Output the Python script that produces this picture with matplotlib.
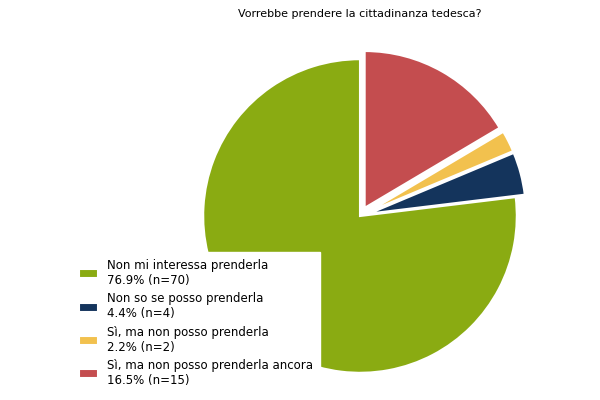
import matplotlib
matplotlib.use("Agg")
import matplotlib.pyplot as plt

labels = ["Non mi interessa prenderla\n76.9% (n=70)",
          "Non so se posso prenderla\n4.4% (n=4)",
          "Sì, ma non posso prenderla\n2.2% (n=2)",
          "Sì, ma non posso prenderla ancora\n16.5% (n=15)"]
values = [70, 4, 2, 15]
colors = ["#8aab12", "#14345c", "#f2c14e", "#c44d4f"]
explode = [0, 0.06, 0.06, 0.06]

fig = plt.figure(figsize=(6, 4), dpi=100)
ax = fig.add_axes([0.27, -0.03, 0.66, 0.98])
ax.pie(values, colors=colors, startangle=90, counterclock=True, explode=explode,
       wedgeprops=dict(edgecolor="white", linewidth=1.5))
ax.set_aspect("equal")
fig.text(0.6, 0.965, "Vorrebbe prendere la cittadinanza tedesca?", ha="center", va="center", fontsize=8)
leg = fig.legend(labels=labels, handles=ax.patches, loc="lower left", bbox_to_anchor=(0.11, 0.0),
                 fontsize=8.5, frameon=True, fancybox=False, edgecolor="white", handlelength=1.6,
                 handleheight=0.8, labelspacing=0.45, borderpad=0.6)
leg.get_frame().set_alpha(1)
fig.savefig("out.png", dpi=100)
